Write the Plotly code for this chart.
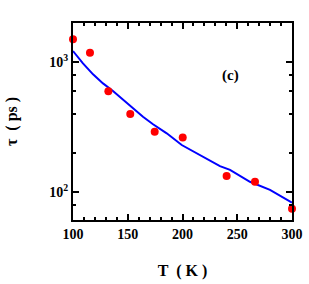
import plotly.graph_objects as go

T_pts = [100, 115.5, 132.3, 152.3, 174.6, 200.2, 240.3, 266.2, 300]
tau_pts = [1496, 1180, 596, 398, 291, 263, 133, 120, 74.5]

T_fit = [100, 109.1, 118.3, 127.4, 136.5, 145.7, 154.8, 163.9, 173.1, 185.6, 199.3, 216, 234.2, 243.4, 261.6, 279.9, 300]
tau_fit = [1215, 977, 804, 685, 598, 511, 441, 379, 332, 283, 230, 193, 158, 148, 120, 104, 83]

x_ticks = [100, 150, 200, 250, 300]
y_ticks = [100, 1000]
y_ticktext = ["10<sup>2</sup>", "10<sup>3</sup>"]
y_minor = [60, 80, 200, 400, 600, 800, 2000]

FONT = "Liberation Serif"

fig = go.Figure()
fig.add_trace(go.Scatter(x=T_fit, y=tau_fit, mode="lines",
                         line=dict(color="#0000ff", width=2), showlegend=False))
fig.add_trace(go.Scatter(x=T_pts, y=tau_pts, mode="markers",
                         marker=dict(color="#ff0000", size=8), cliponaxis=False,
                         showlegend=False))

fig.add_annotation(x=0.717, y=0.731, xref="paper", yref="paper", text="<b>(c)</b>",
                   xanchor="center", yanchor="middle",
                   showarrow=False, font=dict(family=FONT, size=15, color="black"))

fig.update_layout(
    width=309, height=284,
    margin=dict(l=73, r=17, t=23, b=64),
    paper_bgcolor="white", plot_bgcolor="white",
    font=dict(family=FONT, size=14, color="black"),
    xaxis=dict(range=[100, 300], tickvals=x_ticks, automargin=False,
               ticktext=[f"<b>{v}</b>" for v in x_ticks],
               ticks="inside", ticklen=6, tickwidth=1.5, tickcolor="black",
               showline=True, linecolor="black", linewidth=2, mirror="ticks",
               showgrid=False, zeroline=False,
               minor=dict(dtick=10, ticks="inside", ticklen=3, tickwidth=1.5, tickcolor="black"),
               title=dict(text="<b>T &nbsp;( K )</b>", font=dict(family=FONT, size=16), standoff=24)),
    yaxis=dict(type="log", range=[1.785, 3.3], tickvals=y_ticks, automargin=False,
               ticktext=[f"<b>{t}</b>" for t in y_ticktext],
               ticks="inside", ticklen=6, tickwidth=1.5, tickcolor="black",
               showline=True, linecolor="black", linewidth=2, mirror="ticks",
               showgrid=False, zeroline=False,
               minor=dict(tickvals=y_minor, ticks="inside", ticklen=3, tickwidth=1.5, tickcolor="black"),
               title=dict(text="<b>τ &nbsp;( ps )</b>", font=dict(family=FONT, size=16), standoff=28)),
)

fig.write_html("out.html", config={"displayModeBar": False},
               post_script="document.body.style.margin='0px';")
